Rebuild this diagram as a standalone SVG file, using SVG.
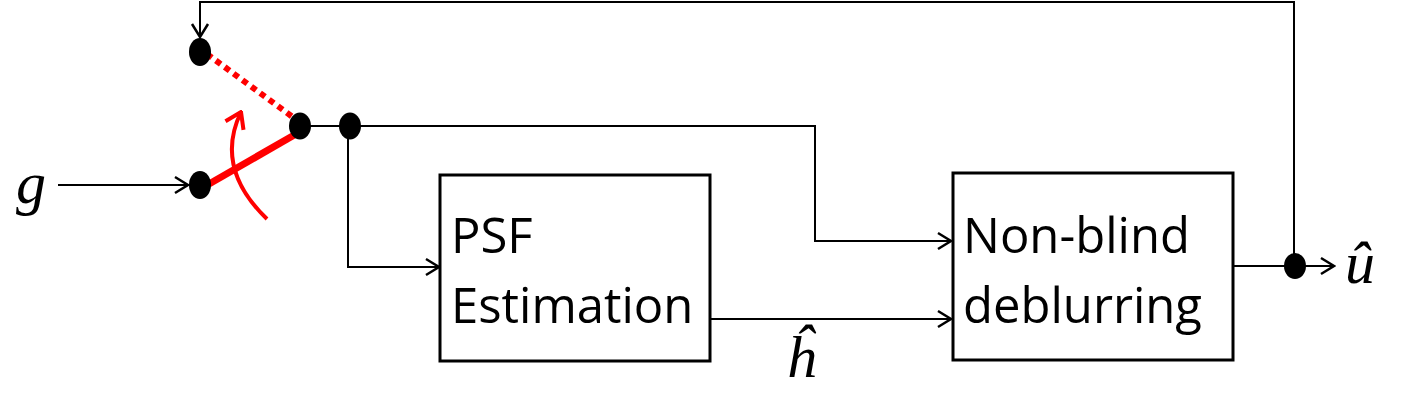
<svg xmlns="http://www.w3.org/2000/svg" width="1413" height="401" viewBox="0 0 1413 401">
<defs>
<style>
.c{fill:none;stroke:#000;stroke-width:2}
.box{fill:#fff;stroke:#000;stroke-width:3}
.lbl{font-family:"Open Sans","Liberation Sans",sans-serif;font-size:49px;fill:#000}
.math{font-family:"Liberation Serif",serif;font-style:italic;font-size:60px;fill:#000}
.dot{fill:#000}
.red{fill:none;stroke:#f00}
</style>
<marker id="arr" viewBox="-16 -10 18 20" markerWidth="18" markerHeight="20" refX="0" refY="0" markerUnits="userSpaceOnUse" orient="auto">
<path d="M-13,-8 L0,0 L-13,8" fill="none" stroke="#000" stroke-width="2.5"/>
</marker>
<marker id="arrR" viewBox="-18 -12 20 24" markerWidth="20" markerHeight="24" refX="0" refY="0" markerUnits="userSpaceOnUse" orient="auto">
<path d="M-15,-10 L0,0 L-15,10" fill="none" stroke="#f00" stroke-width="4"/>
</marker>
</defs>
<rect width="1413" height="401" fill="#fff"/>
<g id="connectors">
<path class="c" d="M1294,266 V2 H200 V37" marker-end="url(#arr)"/>
<path class="c" d="M58,185 H188" marker-end="url(#arr)"/>
<path class="c" d="M300,126 H815 V241 H951" marker-end="url(#arr)"/>
<path class="c" d="M348,126 V267 H439" marker-end="url(#arr)"/>
<path class="c" d="M711,319 H951" marker-end="url(#arr)"/>
<path class="c" d="M1233,266 H1334" marker-end="url(#arr)"/>
</g>
<g id="switch">
<line class="red" x1="207" y1="54" x2="294" y2="118" stroke-width="6" stroke-dasharray="6,5"/>
<line class="red" x1="209" y1="184" x2="296" y2="134" stroke-width="7"/>
<path class="red" d="M267,219 Q214,168 241,112" stroke-width="4" marker-end="url(#arrR)"/>
</g>
<g id="dots">
<ellipse class="dot" cx="200" cy="52" rx="11" ry="14"/>
<ellipse class="dot" cx="300" cy="126" rx="11" ry="13.5"/>
<ellipse class="dot" cx="350" cy="126" rx="11" ry="13.5"/>
<ellipse class="dot" cx="200" cy="185" rx="11" ry="14"/>
<ellipse class="dot" cx="1295" cy="266" rx="11" ry="13"/>
</g>
<g id="psf">
<rect class="box" x="440" y="175" width="270" height="186"/>
<text class="lbl" x="451" y="253">PSF</text>
<text class="lbl" x="451" y="323">Estimation</text>
</g>
<g id="nonblind">
<rect class="box" x="953" y="173" width="280" height="187"/>
<text class="lbl" x="963" y="253">Non-blind</text>
<text class="lbl" x="963" y="323">deblurring</text>
</g>
<g id="labels">
<text class="math" x="16" y="203">g</text>
<text class="math" x="786" y="377">ĥ</text>
<text class="math" x="1345" y="283">û</text>
</g>
</svg>
